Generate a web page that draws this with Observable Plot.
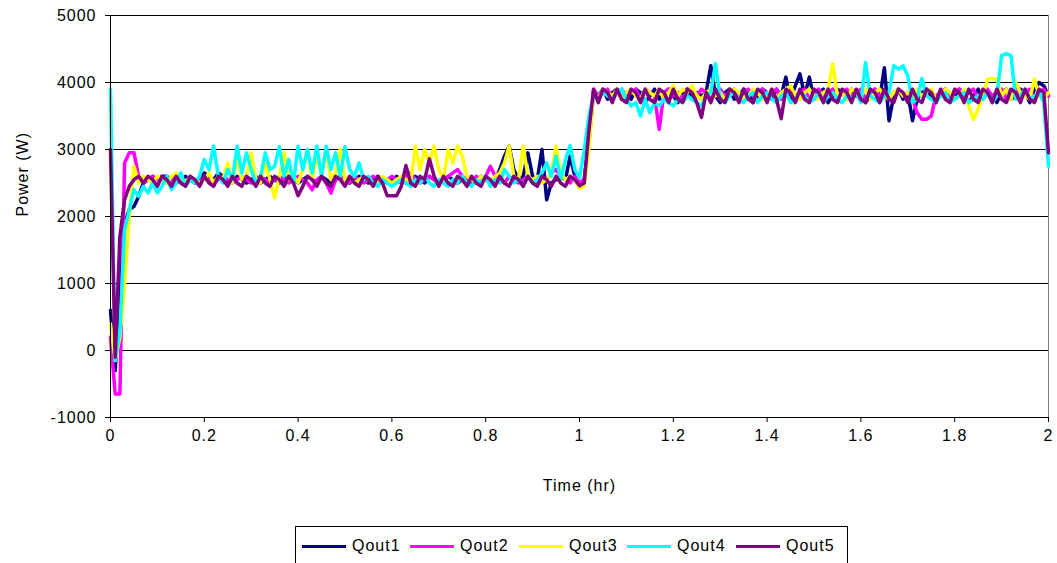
<!DOCTYPE html>
<html>
<head>
<meta charset="utf-8">
<script src="https://cdn.jsdelivr.net/npm/d3@7"></script>
<script src="https://cdn.jsdelivr.net/npm/@observablehq/plot@0.6"></script>
<style>
  body { margin: 0; background: #fff; font-family: "Liberation Sans", Arial, sans-serif; }
  #wrap { position: relative; width: 1057px; height: 563px; overflow: hidden; }
  #chart svg text { letter-spacing: 1px; }
  #legend { position: absolute; left: 295px; top: 526px; width: 553px; height: 44px; border: 1px solid #000; box-sizing: border-box; font-size: 16px; letter-spacing: 1px; }
  #legend .item { position: absolute; top: 9px; display: flex; align-items: center; height: 20px; }
  #legend .sw { width: 44px; height: 3px; margin-right: 6px; }
</style>
</head>
<body>
<div id="wrap">
  <div id="chart"></div>
  <div id="legend"></div>
</div>
<script>
// sampling interval of the recorded series (hours)
const timeStep = 0.01;

const seriesNames = ["Qout1", "Qout2", "Qout3", "Qout4", "Qout5"];
const seriesColors = ["#000080", "#FF00FF", "#FFFF00", "#00FFFF", "#800080"];

const xTicks = [0, 0.2, 0.4, 0.6, 0.8, 1, 1.2, 1.4, 1.6, 1.8, 2];
const yTicks = [-1000, 0, 1000, 2000, 3000, 4000, 5000];
const xTitle = "Time (hr)";
const yTitle = "Power (W)";

const qout1 = [
  600, -300, 900, 1900, 2100, 2150, 2300, 2500, 2550, 2600,
  2550, 2600, 2600, 2550, 2500, 2550, 2600, 2550, 2500, 2550,
  2650, 2600, 2550, 2650, 2600, 2500, 2550, 2600, 2550, 2500,
  2550, 2600, 2500, 2550, 2600, 2550, 2500, 2550, 2600, 2550,
  2500, 2550, 2600, 2550, 2500, 2600, 2550, 2500, 2550, 2600,
  2550, 2500, 2550, 2600, 2550, 2500, 2550, 2600, 2550, 2500,
  2550, 2600, 2550, 2500, 2550, 2600, 2550, 2500, 2600, 2550,
  2500, 2550, 2600, 2550, 2500, 2550, 2600, 2550, 2500, 2600,
  2550, 2500, 2550, 2700, 2900, 3050, 2700, 2550, 2600, 2950,
  2600, 2550, 3000, 2250, 2500, 2550, 2600, 2550, 2900, 2600,
  2500, 2550, 3100, 3850, 3800, 3900, 3750, 3850, 3900, 3750,
  3850, 3750, 3900, 3850, 3700, 3800, 3900, 3750, 3850, 3900,
  3800, 3700, 3850, 3900, 3750, 3850, 3800, 3850, 4250, 3800,
  3700, 3850, 3900, 3750, 3800, 3900, 3850, 3700, 3800, 3900,
  3850, 3750, 3900, 3800, 4080, 3750, 3950, 4130, 3800, 4080,
  3750, 3850, 3900, 3700, 3800, 3900, 3850, 3750, 3900, 3800,
  3850, 3700, 3800, 3900, 3750, 4220, 3430, 3800, 3900, 3750,
  3850, 3430, 3750, 3850, 3900, 3800, 3700, 3850, 3900, 3750,
  3800, 3900, 3850, 3700, 3800, 3900, 3750, 3850, 3800, 3700,
  3850, 3900, 3750, 3800, 3900, 3850, 3700, 3900, 4000, 3950,
  3800
];

const qout2 = [
  200, -650, -650, 2800, 2950, 2950, 2600, 2500, 2550, 2600,
  2550, 2600, 2500, 2550, 2600, 2550, 2500, 2600, 2550, 2500,
  2600, 2550, 2500, 2550, 2600, 2550, 2500, 2550, 2600, 2550,
  2500, 2550, 2600, 2550, 2500, 2550, 2600, 2550, 2500, 2550,
  2600, 2550, 2500, 2400, 2550, 2600, 2500, 2350, 2550, 2600,
  2550, 2500, 2600, 2550, 2500, 2550, 2600, 2550, 2500, 2550,
  2600, 2550, 2500, 2600, 2650, 2550, 2500, 2550, 2600, 2550,
  2500, 2550, 2600, 2650, 2700, 2600, 2550, 2500, 2600, 2550,
  2600, 2750, 2600, 2550, 2500, 2600, 2550, 2500, 2550, 2600,
  2550, 2500, 2600, 2550, 2650, 2700, 2600, 2550, 2500, 2600,
  2500, 2550, 3100, 3900, 3800, 3850, 3900, 3750, 3850, 3900,
  3800, 3850, 3900, 3750, 3900, 3850, 3800, 3300, 3850, 3900,
  3800, 3850, 3750, 3900, 3850, 3800, 3900, 3850, 3750, 3850,
  3900, 3800, 3850, 3900, 3750, 3850, 3900, 3800, 3850, 3900,
  3800, 3850, 3900, 3750, 3850, 3900, 3800, 3850, 3900, 3750,
  3850, 3900, 3800, 3850, 3900, 3750, 3850, 3900, 3800, 3850,
  3900, 3750, 3850, 3900, 3800, 3850, 3750, 3850, 3900, 3800,
  3850, 3750, 3550, 3450, 3450, 3500, 3800, 3850, 3900, 3750,
  3850, 3900, 3800, 3850, 3900, 3750, 3850, 3900, 3800, 3850,
  3900, 3750, 3850, 3900, 3800, 3850, 3900, 3750, 3850, 3900,
  3800
];

const qout3 = [
  400, -150, 200, 1000, 2000, 2750, 2500, 2600, 2550, 2500,
  2600, 2550, 2500, 2600, 2650, 2550, 2500, 2600, 2550, 2500,
  2550, 2650, 2500, 2600, 2550, 2800, 2500, 2900, 2550, 2600,
  2950, 2550, 2500, 2800, 2550, 2280, 2600, 2950, 2550, 2600,
  2500, 2700, 3000, 2550, 2950, 2600, 3000, 2550, 2650, 3000,
  2550, 2600, 2500, 2550, 2600, 2550, 2500, 2550, 2600, 2550,
  2500, 2550, 2600, 2550, 2500, 3050, 2700, 3000, 2800, 3050,
  2700, 2550, 3000, 2800, 3050, 2900, 2600, 2550, 2500, 2600,
  2550, 2500, 2600, 2650, 2800, 3050, 2600, 2550, 3050, 2600,
  2550, 2600, 2500, 2550, 2650, 3050, 2650, 2550, 2600, 2550,
  2420, 2450, 3000, 3850, 3750, 3900, 3850, 3800, 3900, 3750,
  3850, 3900, 3800, 3750, 3900, 3850, 3800, 3900, 3750, 3850,
  3950, 3800, 3900, 3850, 3950, 3800, 3750, 3850, 3900, 3800,
  3850, 3750, 3800, 3900, 3850, 3750, 3800, 3900, 3850, 3750,
  3800, 3900, 3750, 3850, 3900, 3950, 3800, 3750, 3850, 3900,
  3800, 3750, 3850, 3900, 4280, 3800, 3850, 3750, 3900, 3850,
  3800, 3900, 3750, 3850, 3900, 3800, 3750, 3850, 3900, 3800,
  3850, 3750, 3900, 3800, 3850, 3900, 3750, 3800, 3900, 3850,
  3750, 3800, 3900, 3650, 3450, 3600, 3800, 4050, 4060, 4050,
  3800, 3900, 3750, 4000, 3850, 3800, 3750, 4050, 3800, 3750,
  3850
];

const qout4 = [
  3900, -150, 300, 1800, 2100, 2400, 2300, 2450, 2350, 2500,
  2350, 2450, 2600, 2400, 2500, 2650, 2450, 2550, 2500, 2600,
  2850, 2700, 3050, 2600, 2500, 2700, 2550, 3050, 2650, 2950,
  2700, 2500, 2600, 2950, 2700, 2750, 3040, 2600, 2850, 2500,
  3050, 2700, 3000, 2650, 3050, 2600, 3050, 2700, 2950, 2600,
  3040, 2700, 2600, 2800, 2550, 2600, 2500, 2450, 2550, 2500,
  2450, 2500, 2550, 2500, 2450, 2550, 2500, 2600, 2500, 2450,
  2550, 2500, 2450, 2550, 2500, 2600, 2500, 2450, 2550, 2500,
  2600, 2450, 2550, 2500, 2700, 2600, 2500, 2550, 2450, 2600,
  2500, 2550, 2650, 2800, 2600, 2900, 2550, 2850, 3060, 2700,
  2580, 2980, 3500, 3800, 3750, 3850, 3800, 3750, 3850, 3900,
  3750, 3650, 3700, 3500, 3750, 3550, 3700, 3650, 3750, 3700,
  3650, 3750, 3700, 3800, 3750, 3700, 3650, 3800, 3850, 4280,
  3750, 3700, 3800, 3850, 3750, 3700, 3800, 3850, 3700, 3800,
  3850, 3750, 3700, 3800, 3850, 3700, 3750, 3850, 3800, 3700,
  3750, 3850, 3700, 3800, 3850, 3750, 3700, 3800, 3750, 3850,
  3700, 4300, 3800, 3750, 3700, 3800, 3850, 4250, 4200, 4250,
  4100, 3700, 3750, 4060, 3800, 3750, 3700, 3800, 3850, 3700,
  3750, 3800, 3850, 3700, 3750, 3800, 3750, 3850, 3700, 3800,
  4400, 4430, 4400, 3750, 3800, 3900, 3750, 3800, 3850, 3700,
  2750
];

const qout5 = [
  3000, -100, 1700, 2250, 2450, 2550, 2600, 2500, 2600, 2550,
  2450, 2600, 2550, 2450, 2600, 2500, 2450, 2600, 2550, 2450,
  2600, 2500, 2450, 2600, 2550, 2450, 2600, 2500, 2450, 2600,
  2550, 2450, 2600, 2500, 2450, 2600, 2550, 2450, 2600, 2500,
  2310, 2450, 2600, 2550, 2450, 2600, 2500, 2450, 2600, 2550,
  2450, 2600, 2500, 2450, 2600, 2550, 2450, 2600, 2500, 2310,
  2310, 2310, 2450, 2760, 2500, 2450, 2600, 2550, 2860, 2600,
  2450, 2600, 2500, 2450, 2600, 2550, 2450, 2600, 2500, 2450,
  2600, 2550, 2450, 2600, 2500, 2450, 2600, 2550, 2450, 2600,
  2500, 2450, 2600, 2550, 2450, 2600, 2500, 2450, 2600, 2550,
  2460, 2500, 3280, 3900, 3700, 3900, 3850, 3700, 3900, 3750,
  3700, 3900, 3850, 3700, 3900, 3750, 3700, 3900, 3850, 3700,
  3900, 3750, 3700, 3900, 3850, 3700, 3480, 3850, 3700, 3900,
  3750, 3700, 3900, 3850, 3700, 3900, 3750, 3700, 3900, 3850,
  3700, 3900, 3750, 3460, 3900, 3850, 3700, 3900, 3750, 3700,
  3900, 3850, 3700, 3900, 3750, 3700, 3900, 3850, 3700, 3900,
  3750, 3700, 3900, 3850, 3700, 3900, 3750, 3700, 3900, 3850,
  3700, 3900, 3750, 3700, 3900, 3850, 3700, 3900, 3750, 3700,
  3900, 3850, 3700, 3900, 3750, 3700, 3900, 3850, 3700, 3900,
  3750, 3700, 3900, 3850, 3700, 3900, 3750, 3700, 3900, 3850,
  2950
];

const seriesValues = [qout1, qout2, qout3, qout4, qout5];

const rows = [];
seriesValues.forEach((vals, s) => {
  vals.forEach((v, i) => rows.push({ series: seriesNames[s], t: Math.round(i * timeStep * 100) / 100, power: v }));
});

const fmtX = d => String(+d.toFixed(1));
const fmtY = d => String(d);

const chart = Plot.plot({
  width: 1057,
  height: 522,
  marginTop: 15,
  marginBottom: 105,
  marginLeft: 110,
  marginRight: 9,
  style: { fontFamily: "'Liberation Sans', Arial, sans-serif", fontSize: "16px", color: "#000", background: "#fff" },
  x: { domain: [0, 2], label: null },
  y: { domain: [-1000, 5000], label: null },
  color: { domain: seriesNames, range: seriesColors },
  marks: [
    Plot.gridY(yTicks, { stroke: "#000", strokeOpacity: 1 }),
    Plot.ruleX([2], { stroke: "#808080" }),
    Plot.line(rows, { x: "t", y: "power", z: "series", stroke: "series", strokeWidth: 3.5, strokeLinejoin: "round", strokeLinecap: "round" }),
    Plot.ruleX([0], { stroke: "#000" }),
    Plot.ruleY([-1000], { stroke: "#000" }),
    Plot.axisX({ ticks: xTicks, tickFormat: fmtX, tickSize: 5, tickPadding: 7, label: null }),
    Plot.axisY({ ticks: yTicks, tickFormat: fmtY, tickSize: 5, tickPadding: 9, label: null }),
    Plot.text([xTitle], { frameAnchor: "bottom", dy: 68, lineAnchor: "middle", text: d => d, fontSize: 16 }),
    Plot.text([yTitle], { frameAnchor: "left", dx: -88, rotate: -90, lineAnchor: "middle", text: d => d, fontSize: 16 })
  ]
});
document.getElementById("chart").appendChild(chart);

// legend
const legend = document.getElementById("legend");
const itemLeft = [6, 114, 223, 331, 440];
seriesNames.forEach((name, i) => {
  const it = document.createElement("div");
  it.className = "item";
  it.style.left = itemLeft[i] + "px";
  const sw = document.createElement("div");
  sw.className = "sw";
  sw.style.background = seriesColors[i];
  const tx = document.createElement("span");
  tx.textContent = name;
  it.appendChild(sw);
  it.appendChild(tx);
  legend.appendChild(it);
});
</script>
</body>
</html>
